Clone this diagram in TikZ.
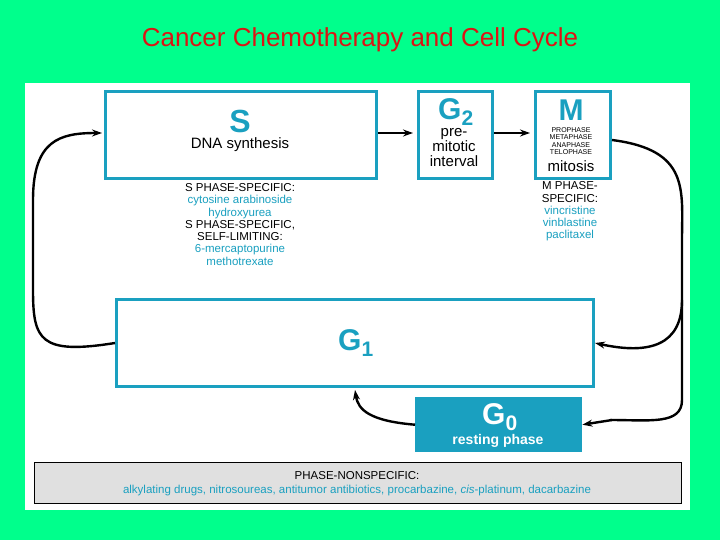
\documentclass[tikz,border=0pt]{standalone}
\usepackage{fontspec}
\setmainfont{Liberation Sans}
\usetikzlibrary{arrows.meta}
\definecolor{bgreen}{RGB}{0,255,140}
\definecolor{cblue}{RGB}{26,160,192}
\definecolor{tred}{RGB}{220,20,20}
\begin{document}
\begin{tikzpicture}[x=1pt,y=-1pt,
   phase/.style={draw=cblue,line width=3pt,fill=white},
   drug/.style={text=cblue,font=\fontsize{11.5}{12}\selectfont},
   heading/.style={font=\fontsize{11.5}{12}\selectfont},
   flow/.style={-{Stealth[length=10pt,width=7pt]},line width=2.4pt}]
% fondo
   \fill[bgreen] (0,0) rectangle (720,540);
   \node[text=tred,font=\fontsize{26}{28}\selectfont] (title) at (360,40) {Cancer Chemotherapy and Cell Cycle};
   \fill[white] (25,83) rectangle (690,510);
% fasi
   \node[phase,minimum width=271,minimum height=87,anchor=north west] (S) at (104,90) {};
   \node[text=cblue,font=\bfseries\fontsize{32}{32}\selectfont] (Slab) at (240,121) {S};
   \node[font=\fontsize{15}{16}\selectfont] (Stext) at (240,145) {DNA synthesis};
   \node[phase,minimum width=74,minimum height=87,anchor=north west] (G2) at (417,90) {};
   \node[text=cblue,font=\bfseries\fontsize{30}{30}\selectfont] (G2lab) at (456,112) {G\textsubscript{2}};
   \node[align=center,font=\fontsize{15}{15}\selectfont] (G2text) at (454,148) {pre-\\mitotic\\interval};
   \node[phase,minimum width=75,minimum height=87,anchor=north west] (M) at (534,90) {};
   \node[text=cblue,font=\bfseries\fontsize{30}{30}\selectfont] (Mlab) at (571,110) {M};
   \node[align=center,font=\fontsize{7}{7.5}\selectfont] (Mphases) at (571,141) {PROPHASE\\METAPHASE\\ANAPHASE\\TELOPHASE};
   \node[font=\fontsize{15}{15}\selectfont] (Mtext) at (571,166) {mitosis};
   \node[phase,minimum width=477,minimum height=87,anchor=north west] (G1) at (115,298) {};
   \node[text=cblue,font=\bfseries\fontsize{30}{30}\selectfont] (G1lab) at (356,343) {G\textsubscript{1}};
   \node[fill=cblue,minimum width=167,minimum height=55,anchor=north west] (G0) at (415,397) {};
   \node[text=white,font=\bfseries\fontsize{30}{30}\selectfont] (G0lab) at (500,417) {G\textsubscript{0}};
   \node[text=white,font=\bfseries\fontsize{14}{14}\selectfont] (G0text) at (498,441) {resting phase};
% farmaci
   \node[anchor=north,align=center,inner sep=0pt] (Sdrugs) at (240,183) {%
     \parbox{170pt}{\centering\baselineskip=12.8pt
     {\fontsize{11.5}{12}\selectfont S PHASE-SPECIFIC:}\\
     {\color{cblue}\fontsize{11.5}{12}\selectfont cytosine arabinoside\\ hydroxyurea}\\
     {\fontsize{11.5}{12}\selectfont S PHASE-SPECIFIC,\\ SELF-LIMITING:}\\
     {\color{cblue}\fontsize{11.5}{12}\selectfont 6-mercaptopurine\\ methotrexate}}};
   \node[anchor=north,align=center,inner sep=0pt] (Mdrugs) at (570,181) {%
     \parbox{90pt}{\centering\baselineskip=12.8pt
     {\fontsize{11.5}{12}\selectfont M PHASE-\\ SPECIFIC:}\\
     {\color{cblue}\fontsize{11.5}{12}\selectfont vincristine\\ vinblastine\\ paclitaxel}}};
   \node[draw,line width=1pt,fill=black!12,
     minimum width=647,minimum height=41,anchor=north west] (NS) at (34,462) {};
   \node[heading] (NStitle) at (357,476) {PHASE-NONSPECIFIC:};
   \node[drug] (NSdrugs) at (357,491) {alkylating drugs, nitrosoureas, antitumor antibiotics, procarbazine, \textit{cis}-platinum, dacarbazine};
% frecce
   \coordinate (GinS) at (102,133);
   \coordinate (Gup) at (355,390);
   \draw[flow] (378,133) -- (413,133);
   \draw[flow] (494,133) -- (530,133);
   \draw[line width=2.4pt] (612,140) .. controls (690,150) and (682,190) .. (682,240)
     -- (682,400) .. controls (682,425) and (650,420) .. (610,420);
   \draw[flow] (682,300) .. controls (682,345) and (650,355) .. (G1.east);
   \draw[flow] (612,420) -- (G0.east);
   \draw[flow] (G1.west) .. controls (40,355) and (33,340) .. (33,290)
     -- (33,200) .. controls (33,140) and (60,133) .. (GinS);
   \draw[flow] (G0.west) .. controls (370,421) and (358,410) .. (Gup);
\end{tikzpicture}
\end{document}
